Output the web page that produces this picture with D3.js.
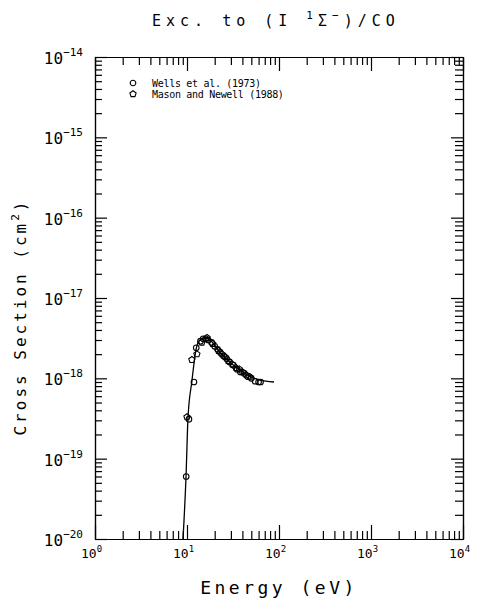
<!DOCTYPE html>
<html>
<head>
<meta charset="utf-8">
<script src="https://cdn.jsdelivr.net/npm/d3@7"></script>
<style>
  body { margin: 0; background: #fff; }
  svg { display: block; }
  text { font-family: "DejaVu Sans Mono", monospace; fill: #000; }
  .axis path, .axis line { stroke: #000; stroke-width: 1.2; }
</style>
</head>
<body>
<div id="chart"></div>
<script>
// data
var fitCurve = [
    [9.05, 1.0e-20], [9.76, 6.0e-20], [10.25, 3.2e-19], [11.3, 9.2e-19],
    [12.5, 2.25e-18], [13.8, 3.0e-18], [15.7, 3.2e-18], [17.8, 3.0e-18],
    [22.8, 2.12e-18], [29.3, 1.59e-18], [37.7, 1.27e-18], [48.4, 1.06e-18],
    [62.1, 9.5e-19], [88.2, 9.0e-19]
];
var wells1973 = [
    [9.8, 6.0e-20], [10.5, 3.1e-19], [11.9, 9.0e-19], [12.6, 2.4e-18], [14, 2.9e-18],
    [15, 3.1e-18], [16, 3.1e-18], [17, 3.0e-18], [18.5, 2.8e-18], [20, 2.5e-18],
    [21.5, 2.3e-18], [23, 2.1e-18], [25, 1.9e-18], [27, 1.75e-18], [29, 1.6e-18],
    [32, 1.45e-18], [35, 1.3e-18], [38, 1.2e-18], [42, 1.15e-18], [46, 1.05e-18],
    [50, 1.0e-18], [55, 9.2e-19], [60, 9.0e-19], [63, 9.0e-19]
];
var masonNewell1988 = [
    [10.0, 3.3e-19], [11.3, 1.7e-18], [12.8, 2.0e-18], [14.5, 2.8e-18], [16.5, 3.2e-18],
    [19, 2.7e-18], [22, 2.2e-18], [24, 2.0e-18], [26, 1.85e-18], [28, 1.65e-18],
    [31, 1.5e-18], [34, 1.35e-18], [37, 1.3e-18], [40, 1.2e-18], [44, 1.1e-18],
    [48, 1.05e-18]
];
var xDecades = [0, 1, 2, 3, 4];
var yDecades = [-14, -15, -16, -17, -18, -19, -20];
var legendLabels = ["Wells et al. (1973)", "Mason and Newell (1988)"];

var svgWidth = 480;
var svgHeight = 604;
var margin = { top: 57, right: 17, bottom: 65, left: 95 };
var width = svgWidth - margin.left - margin.right;
var height = svgHeight - margin.top - margin.bottom;

var svg = d3.select("#chart")
    .append("svg")
    .attr("width", svgWidth)
    .attr("height", svgHeight);

var g = svg.append("g")
    .attr("transform", `translate(${margin.left}, ${margin.top})`);

var xScale = d3.scaleLog().domain([1, 1e4]).range([0, width]);
var yScale = d3.scaleLog().domain([1e-20, 1e-14]).range([height, 0]);

// major / minor tick values
var xMajor = xDecades.map(d => Math.pow(10, d));
var xMinor = [];
xDecades.slice(0, -1).forEach(function(d) {
    for (var k = 2; k <= 9; k++) xMinor.push(k * Math.pow(10, d));
});
var yMajor = yDecades.map(d => Math.pow(10, d));
var yMinor = [];
yDecades.slice(1).forEach(function(d) {
    for (var k = 2; k <= 9; k++) yMinor.push(k * Math.pow(10, d));
});

function addAxis(axisFn, scale, values, size, transform) {
    g.append("g")
        .attr("class", "axis")
        .attr("transform", transform)
        .call(axisFn(scale).tickValues(values).tickSize(size).tickSizeOuter(0).tickFormat(""));
}

addAxis(d3.axisBottom, xScale, xMinor, -8, `translate(0, ${height})`);
addAxis(d3.axisBottom, xScale, xMajor, -14, `translate(0, ${height})`);
addAxis(d3.axisTop, xScale, xMinor, -8, "translate(0, 0)");
addAxis(d3.axisTop, xScale, xMajor, -14, "translate(0, 0)");
addAxis(d3.axisLeft, yScale, yMinor, -7, "translate(0, 0)");
addAxis(d3.axisLeft, yScale, yMajor, -12, "translate(0, 0)");
addAxis(d3.axisRight, yScale, yMinor, -8, `translate(${width}, 0)`);
addAxis(d3.axisRight, yScale, yMajor, -12, `translate(${width}, 0)`);

// tick labels
var xLab = g.selectAll(".xlab")
    .data(xDecades)
    .enter()
    .append("text")
    .attr("class", "xlab")
    .attr("x", d => xScale(Math.pow(10, d)) - 14)
    .attr("y", height + 19)
    .style("font-size", "13px")
    .style("letter-spacing", "0px");
xLab.append("tspan").text("10");
xLab.append("tspan").attr("dy", -6).style("font-size", "9px").text(d => d);

var yLab = g.selectAll(".ylab")
    .data(yDecades)
    .enter()
    .append("text")
    .attr("class", "ylab")
    .attr("x", -12)
    .attr("y", d => yScale(Math.pow(10, d)) + 7)
    .style("text-anchor", "end")
    .style("font-size", "16px");
yLab.append("tspan").text("10");
yLab.append("tspan").attr("dy", -8).style("font-size", "11px").text(d => "\u2212" + Math.abs(d));

// fit curve
var line = d3.line()
    .x(d => xScale(d[0]))
    .y(d => yScale(d[1]))
    .curve(d3.curveMonotoneX);

g.append("path")
    .datum(fitCurve)
    .attr("d", line)
    .attr("fill", "none")
    .attr("stroke", "#000")
    .attr("stroke-width", 1.3);

function pentagon(r) {
    var pts = d3.range(5).map(function(i) {
        var a = -Math.PI / 2 + i * 2 * Math.PI / 5;
        return [r * Math.cos(a), r * Math.sin(a)];
    });
    return "M" + pts.join("L") + "Z";
}

g.selectAll(".wells")
    .data(wells1973)
    .enter()
    .append("circle")
    .attr("cx", d => xScale(d[0]))
    .attr("cy", d => yScale(d[1]))
    .attr("r", 2.8)
    .attr("fill", "none")
    .attr("stroke", "#000")
    .attr("stroke-width", 1.1);

g.selectAll(".mason")
    .data(masonNewell1988)
    .enter()
    .append("path")
    .attr("transform", d => `translate(${xScale(d[0])}, ${yScale(d[1])})`)
    .attr("d", pentagon(3.3))
    .attr("fill", "none")
    .attr("stroke", "#000")
    .attr("stroke-width", 1.1);

// legend
var legend = svg.append("g").attr("transform", "translate(133, 83)");
legend.append("circle").attr("r", 2.8).attr("fill", "none").attr("stroke", "#000").attr("stroke-width", 1.1);
legend.append("path").attr("transform", "translate(0, 11)").attr("d", pentagon(3.3))
    .attr("fill", "none").attr("stroke", "#000").attr("stroke-width", 1.1);
legend.selectAll("text")
    .data(legendLabels)
    .enter()
    .append("text")
    .attr("x", 19)
    .attr("y", (d, i) => i * 11 + 4)
    .style("font-size", "10px")
    .style("letter-spacing", "-0.3px")
    .text(d => d);

// title
var title = svg.append("text")
    .attr("x", 152)
    .attr("y", 26)
    .style("font-size", "15px")
    .style("letter-spacing", "5px");
title.append("tspan").text("Exc. to (I ");
title.append("tspan").attr("dy", -7).style("font-size", "11px").text("1");
title.append("tspan").attr("dy", 7).text("\u03A3");
title.append("tspan").attr("dy", -7).style("font-size", "11px").text("\u2212");
title.append("tspan").attr("dy", 7).text(")/CO");

// axis titles
svg.append("text")
    .attr("transform", `translate(${margin.left + width / 2}, 594)`)
    .style("text-anchor", "middle")
    .style("font-size", "18px")
    .style("letter-spacing", "3.5px")
    .text("Energy (eV)");

var yTitle = svg.append("text")
    .attr("transform", "translate(26, 317) rotate(-90)")
    .style("text-anchor", "middle")
    .style("font-size", "16px")
    .style("letter-spacing", "3px");
yTitle.append("tspan").text("Cross Section (cm");
yTitle.append("tspan").attr("dy", -7).style("font-size", "11px").text("2");
yTitle.append("tspan").attr("dy", 7).text(")");
</script>
</body>
</html>
